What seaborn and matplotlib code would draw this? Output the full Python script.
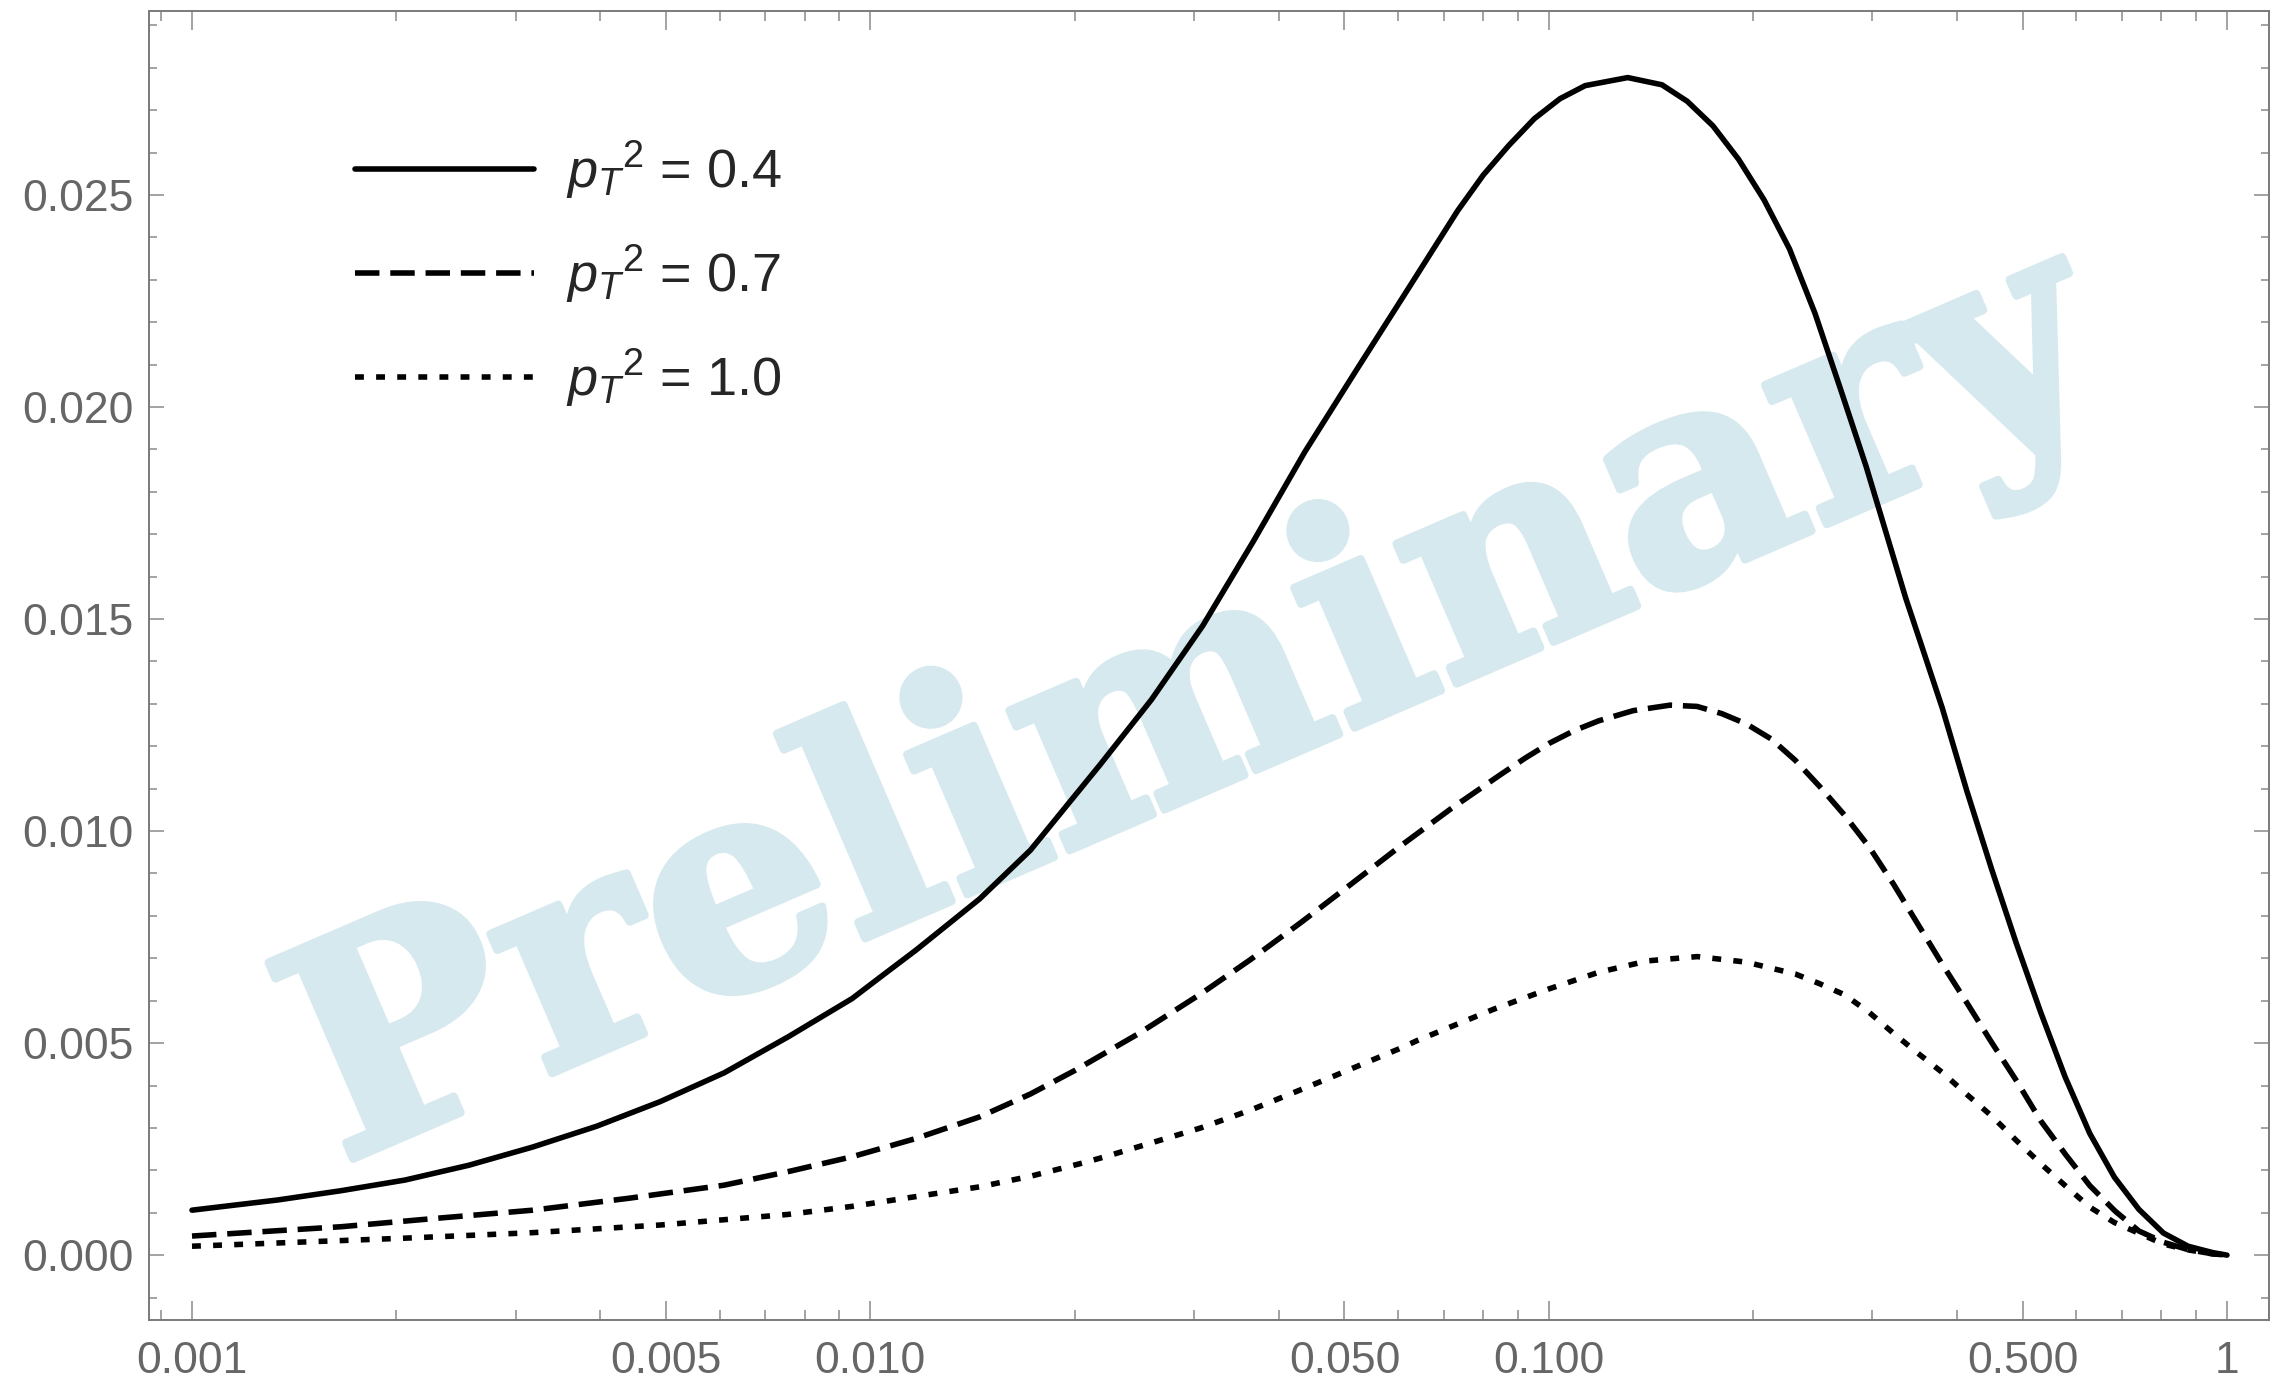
import numpy as np
import pandas as pd
import matplotlib
matplotlib.use("Agg")
import matplotlib.pyplot as plt
import matplotlib.patheffects as pe
import seaborn as sns
from matplotlib.ticker import LogLocator, MultipleLocator, NullFormatter
from matplotlib.lines import Line2D

# ---- data -------------------------------------------------------------
x_pt04 = [0.001, 0.001337, 0.00166, 0.00206, 0.00256, 0.00318, 0.00395, 0.0049,
          0.00609, 0.00757, 0.0094, 0.01047, 0.01167, 0.01449, 0.01722, 0.0218,
          0.02597, 0.0309, 0.03672, 0.0437, 0.05192, 0.0618, 0.07343, 0.08009,
          0.08736, 0.09526, 0.1039, 0.1132, 0.1308, 0.1469, 0.1601, 0.1747,
          0.1906, 0.2077, 0.2265, 0.2470, 0.2694, 0.2938, 0.3204, 0.336, 0.3559,
          0.3805, 0.4135, 0.4497, 0.4888, 0.5313, 0.5774, 0.6277, 0.6823,
          0.7415, 0.8062, 0.8764, 0.9526, 1.0]
y_pt04 = [0.00106, 0.0013, 0.00152, 0.00177, 0.00212, 0.00255, 0.00304, 0.00362,
          0.0043, 0.00515, 0.00605, 0.00662, 0.00719, 0.0084, 0.00955, 0.01156,
          0.0131, 0.01484, 0.01684, 0.01894, 0.02084, 0.02274, 0.02463, 0.02547,
          0.02617, 0.0268, 0.02727, 0.02758, 0.02777, 0.0276, 0.02721, 0.02663,
          0.02584, 0.02489, 0.02373, 0.02221, 0.02042, 0.0186, 0.0166, 0.0155,
          0.0143, 0.0129, 0.01095, 0.00911, 0.00737, 0.00573, 0.0042, 0.00287,
          0.00184, 0.00108, 0.00052, 0.00021, 0.00006, 0.0]

x_pt07 = [0.001, 0.00166, 0.0023, 0.00318, 0.0044, 0.00609, 0.00757, 0.0094,
          0.01167, 0.01449, 0.01722, 0.02005, 0.0249, 0.0307, 0.03635, 0.0431,
          0.05105, 0.0605, 0.07168, 0.0849, 0.09232, 0.1002, 0.1091, 0.1185,
          0.1332, 0.151, 0.1655, 0.180, 0.1955, 0.213, 0.231, 0.251, 0.2729,
          0.297, 0.3224, 0.351, 0.3805, 0.414, 0.4497, 0.490, 0.5313, 0.579,
          0.6277, 0.684, 0.7415, 0.807, 0.8764, 0.9526, 1.0]
y_pt07 = [0.00045, 0.00067, 0.00087, 0.00106, 0.00134, 0.00165, 0.00197, 0.00232,
          0.00275, 0.00326, 0.0038, 0.00436, 0.00523, 0.00616, 0.00697, 0.00784,
          0.00874, 0.00965, 0.01052, 0.01133, 0.01172, 0.01207, 0.01237, 0.0126,
          0.01284, 0.01297, 0.01294, 0.01277, 0.01253, 0.01217, 0.01167, 0.01105,
          0.01038, 0.00962, 0.00875, 0.00778, 0.00686, 0.00594, 0.00502, 0.0041,
          0.00317, 0.00236, 0.00164, 0.00104, 0.00057, 0.0003, 0.00013, 0.00003,
          0.0]

x_pt10 = [0.001, 0.00206, 0.00318, 0.0049, 0.00757, 0.0094, 0.01167, 0.01449,
          0.01722, 0.02065, 0.0223, 0.0274, 0.0307, 0.03635, 0.0431, 0.0482,
          0.0605, 0.064, 0.083, 0.1002, 0.1185, 0.140, 0.1656, 0.1955, 0.231,
          0.251, 0.273, 0.2966, 0.323, 0.3503, 0.381, 0.4135, 0.450, 0.4888,
          0.532, 0.5774, 0.628, 0.6823, 0.743, 0.8062, 0.879, 0.9526, 1.0]
y_pt10 = [0.00021, 0.0004, 0.00053, 0.00071, 0.00096, 0.00115, 0.00138, 0.00161,
          0.00186, 0.00218, 0.00233, 0.00276, 0.003, 0.00342, 0.0039, 0.00422,
          0.00488, 0.00506, 0.0058, 0.00628, 0.00667, 0.00694, 0.00704, 0.00691,
          0.00663, 0.0064, 0.00614, 0.00573, 0.00522, 0.00476, 0.0043, 0.00379,
          0.00328, 0.00271, 0.00215, 0.00164, 0.00113, 0.00077, 0.00051, 0.00026,
          0.00012, 0.00003, 0.0]

series_names = ["0.4", "0.7", "1.0"]

xtick_vals = [0.001, 0.005, 0.010, 0.050, 0.100, 0.500, 1]
xtick_labels = ["0.001", "0.005", "0.010", "0.050", "0.100", "0.500", "1"]
ytick_vals = [0.000, 0.005, 0.010, 0.015, 0.020, 0.025]
ytick_labels = ["0.000", "0.005", "0.010", "0.015", "0.020", "0.025"]

# ---- style ------------------------------------------------------------
sns.set_style("ticks")
plt.rcParams["font.family"] = ["Liberation Sans", "DejaVu Sans"]
plt.rcParams["mathtext.fontset"] = "custom"
plt.rcParams["mathtext.rm"] = "Liberation Sans"
plt.rcParams["mathtext.it"] = "Liberation Sans:italic"

frames = []
for name, xs, ys in zip(series_names, [x_pt04, x_pt07, x_pt10], [y_pt04, y_pt07, y_pt10]):
    frames.append(pd.DataFrame({"x": xs, "y": ys, "pT2": name}))
df = pd.concat(frames, ignore_index=True)

LW = 4.0
dash_map = {"0.4": "", "0.7": (4.4, 1.95), "1.0": (1.6, 2.2)}

W, H = 2277, 1382
fig = plt.figure(figsize=(W / 100, H / 100), dpi=100)
ax = fig.add_axes([149 / W, 1 - 1320 / H, (2269 - 149) / W, (1320 - 11) / H])

sns.lineplot(data=df, x="x", y="y", style="pT2", dashes=dash_map, color="black",
             linewidth=LW, estimator=None, sort=False, legend=False, ax=ax, zorder=3)
for ln in ax.get_lines():
    ln.set_solid_joinstyle("round")
    ln.set_dash_joinstyle("round")

ax.set_xscale("log")
ax.set_xlim(10 ** -3.0634, 10 ** 0.062)
ax.set_ylim(-0.00153, 0.02934)
ax.set_xlabel("")
ax.set_ylabel("")

ax.set_xticks(xtick_vals)
ax.set_xticklabels(xtick_labels)
ax.xaxis.set_minor_locator(LogLocator(base=10, subs=np.arange(1, 10), numticks=100))
ax.xaxis.set_minor_formatter(NullFormatter())
ax.set_yticks(ytick_vals)
ax.set_yticklabels(ytick_labels)
ax.yaxis.set_minor_locator(MultipleLocator(0.001))

tick_col = "#8a8a8a"
label_col = "#666666"
ax.tick_params(which="both", direction="in", top=True, right=True,
               color=tick_col, labelcolor=label_col, labelsize=32, width=1.1)
ax.tick_params(axis="x", which="major", length=14, pad=15)
ax.tick_params(axis="x", which="minor", length=7)
ax.tick_params(axis="y", which="major", length=11, pad=11)
ax.tick_params(axis="y", which="minor", length=6)
for sp in ax.spines.values():
    sp.set_color("#7a7a7a")
    sp.set_linewidth(1.4)
    sp.set_visible(True)

# watermark
wm_col = "#d6e9ef"
ax.text(1228 / W, 1 - 782 / H, "Preliminary", transform=fig.transFigure,
        rotation=23.3, rotation_mode="anchor", ha="center", va="baseline",
        fontsize=211, fontweight="bold", family="DejaVu Serif",
        color=wm_col, zorder=0.5,
        path_effects=[pe.withStroke(linewidth=6, foreground=wm_col)])

# legend
handles = [Line2D([], [], color="black", lw=LW, linestyle="-"),
           Line2D([], [], color="black", lw=LW, dashes=dash_map["0.7"]),
           Line2D([], [], color="black", lw=LW, dashes=dash_map["1.0"])]
labels = [r"$p_T{}^{2}$ = " + n for n in series_names]
leg = ax.legend(handles, labels, loc="upper left",
                bbox_to_anchor=(355 / W, 1 - 139 / H), bbox_transform=fig.transFigure,
                frameon=False, fontsize=39, handlelength=3.3, handletextpad=0.6,
                labelspacing=0.78, borderpad=0, borderaxespad=0)

fig.savefig("out.png", dpi=100, facecolor="white")
